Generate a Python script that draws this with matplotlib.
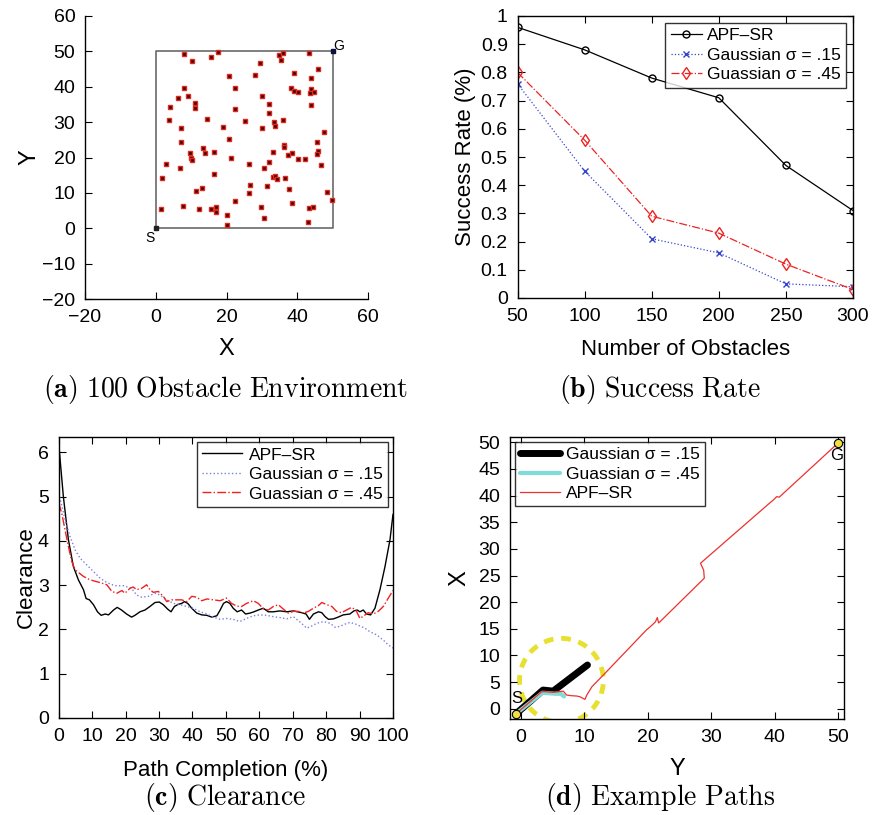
import matplotlib
matplotlib.use('Agg')
import matplotlib.pyplot as plt
from matplotlib.patches import Ellipse

plt.rcParams['font.family'] = ['Liberation Sans', 'DejaVu Sans']
plt.rcParams['mathtext.fontset'] = 'cm'

# (a) obstaculos del entorno
obs_x = [8.0, 17.7, 10.3, 15.7, 29.4, 34.9, 36.1, 35.5, 43.4, 45.9, 39.2, 43.9, 28.1, 20.8,
         8.1, 22.4, 9.2, 6.2, 29.9, 38.1, 39.0, 40.2, 43.9, 44.7, 43.7, 11.2, 11.2, 4.0,
         31.9, 44.0, 22.5, 32.1, 3.7, 14.4, 25.3, 33.5, 33.6, 36.1, 7.1, 18.9, 30.1, 47.5,
         20.7, 7.2, 45.5, 36.3, 36.3, 13.4, 9.6, 14.0, 16.6, 33.1, 38.4, 37.5, 45.9, 45.5,
         9.9, 10.3, 21.3, 40.2, 42.1, 3.0, 26.4, 32.0, 46.8, 6.8, 30.6, 1.9, 16.6, 33.2,
         33.6, 34.3, 36.6, 26.7, 31.5, 13.1, 11.5, 37.8, 26.4, 48.3, 49.8, 22.3, 38.4, 7.7,
         17.1, 1.5, 12.2, 15.6, 17.0, 29.8, 43.4, 44.4, 20.0, 30.7, 42.9, 20.2]
obs_y = [49.3, 49.9, 47.3, 48.3, 46.7, 49.0, 49.5, 47.6, 49.5, 45.0, 43.9, 42.6, 43.3, 43.0,
         39.7, 39.7, 37.3, 36.7, 37.5, 39.6, 38.7, 38.4, 39.3, 38.5, 38.2, 35.3, 34.1, 34.3,
         35.1, 34.7, 33.6, 32.5, 30.6, 30.8, 30.2, 30.0, 29.0, 30.6, 28.4, 28.5, 28.2, 27.1,
         25.2, 24.4, 24.4, 23.6, 23.1, 22.7, 21.3, 21.3, 21.6, 21.6, 21.4, 20.7, 21.8, 21.0,
         19.9, 19.3, 19.8, 19.6, 19.6, 18.1, 18.1, 18.7, 18.0, 16.9, 16.9, 14.2, 15.2, 14.4,
         14.9, 13.9, 14.3, 12.3, 11.9, 11.4, 10.6, 11.2, 10.1, 10.2, 8.1, 7.6, 7.1, 6.3,
         6.1, 5.4, 5.5, 5.4, 4.5, 5.9, 5.6, 6.0, 3.7, 2.8, 1.9, 0.9]
area_x = [0, 50, 50, 0, 0]
area_y = [0, 0, 50, 50, 0]

# (b) tasa de exito
n_obs = [50, 100, 150, 200, 250, 300]
sr_apf = [0.96, 0.88, 0.78, 0.71, 0.47, 0.31]
sr_g15 = [0.76, 0.45, 0.21, 0.16, 0.05, 0.04]
sr_g45 = [0.80, 0.56, 0.29, 0.23, 0.12, 0.03]

# (c) clearance
c_apf_x = [0, 1.4, 2.9, 4.4, 5.9, 7.4, 8.2, 9.2, 10.4, 11.6, 12.7, 13.9, 14.9, 16.4, 17.5, 18.8,
           20.3, 21.8, 22.8, 24.3, 25.8, 27.3, 28.8, 30.1, 31.3, 32.6, 33.6, 34.6, 35.8, 36.8,
           37.6, 38.6, 39.8, 41.3, 42.8, 44.3, 45.8, 47.3, 48.3, 49.3, 50.2, 51.2, 52.2, 53.4,
           54.7, 55.9, 57.2, 58.4, 59.7, 61.2, 62.7, 64.2, 66.2, 68.2, 70.2, 72.7, 74.0, 75.0,
           76.2, 77.7, 78.7, 79.7, 80.7, 82.2, 83.6, 85.1, 87.1, 88.3, 89.3, 90.1, 91.1, 92.1,
           93.3, 94.6, 96.1, 97.6, 99.1, 100]
c_apf_y = [6.2, 5.0, 4.03, 3.42, 3.12, 2.9, 2.7, 2.67, 2.56, 2.4, 2.32, 2.35, 2.33, 2.44, 2.5, 2.44,
           2.35, 2.28, 2.32, 2.4, 2.44, 2.52, 2.61, 2.62, 2.56, 2.46, 2.4, 2.52, 2.57, 2.59,
           2.63, 2.59, 2.48, 2.37, 2.33, 2.32, 2.28, 2.31, 2.44, 2.59, 2.63, 2.59, 2.48, 2.4,
           2.44, 2.35, 2.37, 2.4, 2.44, 2.48, 2.4, 2.4, 2.42, 2.4, 2.42, 2.38, 2.35, 2.23,
           2.35, 2.4, 2.38, 2.29, 2.23, 2.24, 2.28, 2.33, 2.35, 2.42, 2.44, 2.4, 2.44, 2.35,
           2.33, 2.48, 2.9, 3.42, 4.03, 4.6]
c_g15_x = [0, 1.0, 1.9, 3.4, 4.9, 6.4, 8.4, 10.4, 12.4, 14.4, 16.8, 19.3, 21.8, 23.3, 24.8, 26.8,
           28.8, 30.3, 32.3, 34.3, 36.3, 38.3, 40.3, 42.3, 44.3, 46.3, 48.3, 50.2, 52.2, 54.2,
           56.2, 58.2, 60.2, 62.2, 64.2, 66.2, 68.2, 70.2, 71.7, 73.2, 74.2, 75.7, 77.2, 79.2,
           81.2, 82.7, 84.1, 85.6, 87.1, 88.6, 90.1, 91.6, 93.1, 95.1, 97.1, 98.6, 100]
c_g15_y = [5.08, 4.78, 4.48, 4.1, 3.8, 3.61, 3.46, 3.31, 3.16, 3.06, 2.99, 2.99, 2.93, 2.78, 2.73, 2.75,
           2.82, 2.78, 2.67, 2.59, 2.56, 2.52, 2.48, 2.4, 2.35, 2.28, 2.23, 2.25, 2.23, 2.18,
           2.25, 2.31, 2.33, 2.32, 2.29, 2.27, 2.24, 2.29, 2.2, 2.1, 2.03, 2.08, 2.14, 2.18,
           2.14, 2.05, 2.07, 2.12, 2.16, 2.13, 2.08, 2.03, 1.95, 1.88, 1.76, 1.65, 1.58]
c_g45_x = [0, 0.9, 1.9, 2.9, 3.9, 4.9, 5.9, 7.4, 8.9, 10.4, 12.4, 14.4, 15.9, 17.4, 18.9, 19.8,
           21.3, 22.3, 23.3, 24.8, 26.3, 27.3, 28.3, 29.8, 31.3, 32.3, 33.8, 35.3, 36.8, 38.3,
           39.8, 41.3, 42.8, 44.3, 46.3, 48.3, 50.2, 51.7, 53.2, 54.7, 56.2, 58.2, 59.7, 61.2,
           62.7, 64.2, 65.7, 67.2, 68.7, 70.2, 71.7, 73.2, 74.7, 76.2, 77.7, 78.7, 80.2, 81.7,
           83.1, 84.6, 86.1, 87.6, 88.9, 90.1, 91.3, 92.6, 94.1, 95.6, 97.1, 98.6, 100]
c_g45_y = [4.86, 4.63, 4.25, 3.88, 3.54, 3.35, 3.29, 3.2, 3.14, 3.1, 3.06, 3.01, 2.86, 2.82, 2.88, 2.82,
           2.93, 2.96, 2.9, 2.93, 3.01, 2.9, 2.84, 2.86, 2.75, 2.63, 2.67, 2.67, 2.67, 2.63,
           2.75, 2.73, 2.65, 2.69, 2.67, 2.65, 2.71, 2.59, 2.53, 2.52, 2.59, 2.65, 2.59, 2.47,
           2.44, 2.52, 2.56, 2.46, 2.37, 2.41, 2.41, 2.37, 2.41, 2.48, 2.54, 2.61, 2.56, 2.52,
           2.41, 2.38, 2.44, 2.5, 2.44, 2.25, 2.31, 2.38, 2.35, 2.41, 2.52, 2.71, 2.88]

# (d) trayectorias de ejemplo
p_apf_x = [-0.8, 3.3, 3.8, 5.1, 6.7, 7.2, 8.0, 8.8, 9.3, 9.8, 10.1, 10.4, 11.2, 13.0, 19.8, 20.1,
           20.4, 21.2, 21.5, 21.7, 21.9, 28.9, 28.8, 28.3, 39.0, 39.8, 40.3, 40.7, 50.0]
p_apf_y = [-1.0, 3.2, 3.2, 3.07, 3.3, 2.57, 2.44, 2.38, 2.25, 1.94, 1.75, 2.57, 4.13, 6.32, 14.8, 15.1,
           15.4, 16.3, 17.1, 16.1, 16.3, 24.5, 26.0, 27.3, 38.4, 39.2, 39.8, 39.7, 49.9]
p_g15_x = [-0.8, 3.5, 5.1, 6.7, 10.5]
p_g15_y = [-1.0, 3.5, 3.3, 4.75, 8.2]
p_g45_x = [-0.8, 3.4, 5.5, 6.3, 6.8]
p_g45_y = [-1.0, 3.0, 2.8, 2.8, 2.3]
start_pt = (-0.8, -1.0)
goal_pt = (50.0, 49.9)

sig = '\u03c3'

fig = plt.figure(figsize=(8.77, 8.15), dpi=100)
W, H = 877, 815


def box(l, r, t, b):
    return [l / W, 1 - b / H, (r - l) / W, (b - t) / H]


def estilo(ax, full=True):
    ax.tick_params(direction='in', length=5, labelsize=14, top=full, right=full, width=0.8, pad=7)
    for s in ax.spines.values():
        s.set_linewidth(1.0)


# ---- (a)
ax1 = fig.add_axes(box(85, 368, 16, 299))
ax1.plot(area_x, area_y, color='#6a6a6a', lw=1.2)
ax1.plot(obs_x, obs_y, 's', ms=3.4, mfc='#3a0000', mec='#e02a20', mew=1.0, ls='none')
ax1.plot([0], [0], 's', ms=2.5, color='#202020')
ax1.plot([50], [50], 's', ms=3.5, color='#101040')
ax1.text(-1.6, -2.8, 'S', fontsize=10, ha='center', va='center')
ax1.text(51.8, 51.6, 'G', fontsize=10, ha='center', va='center')
ax1.set_xlim(-20, 60)
ax1.set_ylim(-20, 60)
ax1.set_xticks([-20, 0, 20, 40, 60])
ax1.set_yticks(range(-20, 61, 10))
ax1.spines['top'].set_visible(False)
ax1.spines['right'].set_visible(False)
estilo(ax1, full=False)
ax1.set_xlabel('X', fontsize=17, labelpad=9)
ax1.set_ylabel('Y', fontsize=17, labelpad=1)

# ---- (b)
ax2 = fig.add_axes(box(517.5, 853, 16, 298))
ax2.plot(n_obs, sr_apf, '-o', color='black', mfc='none', ms=5, lw=0.9, label='APF\u2013SR')
ax2.plot(n_obs, sr_g15, ':x', color='#3344cc', ms=4, lw=0.9, mew=1.0,
         label='Gaussian ' + sig + ' = .15')
ax2.plot(n_obs, sr_g45, '-.d', color='#ee2222', mfc='none', ms=6, lw=0.9,
         label='Guassian ' + sig + ' = .45')
ax2.set_xlim(50, 300)
ax2.set_ylim(0, 1)
ax2.set_xticks(n_obs)
ax2.set_yticks([i / 10 for i in range(11)])
ax2.set_yticklabels(['0', '0.1', '0.2', '0.3', '0.4', '0.5', '0.6', '0.7', '0.8', '0.9', '1'])
estilo(ax2)
ax2.set_xlabel('Number of Obstacles', fontsize=16, labelpad=10)
ax2.set_ylabel('Success Rate (%)', fontsize=16, labelpad=3)
lg = ax2.legend(loc='upper right', fontsize=12.5, fancybox=False, edgecolor='black',
                handlelength=1.8, borderpad=0.3, labelspacing=0.25, handletextpad=0.3,
                borderaxespad=0.4)
lg.get_frame().set_linewidth(1.0)

# ---- (c)
ax3 = fig.add_axes(box(58.7, 393, 437, 718))
ax3.plot(c_apf_x, c_apf_y, '-', color='black', lw=1.0, label='APF\u2013SR')
ax3.plot(c_g15_x, c_g15_y, ':', color='#7a80e0', lw=1.0, label='Gaussian ' + sig + ' = .15')
ax3.plot(c_g45_x, c_g45_y, '-.', color='#ee2222', lw=1.0, label='Guassian ' + sig + ' = .45')
ax3.set_xlim(0, 100)
ax3.set_ylim(0, 6.35)
ax3.set_xticks(range(0, 101, 10))
ax3.set_yticks(range(0, 7))
estilo(ax3)
ax3.set_xlabel('Path Completion (%)', fontsize=16, labelpad=11)
ax3.set_ylabel('Clearance', fontsize=16, labelpad=1)
lg = ax3.legend(loc='upper right', fontsize=12.5, fancybox=False, edgecolor='black',
                handlelength=2.3, borderpad=0.3, labelspacing=0.25, handletextpad=0.4,
                borderaxespad=0.3)
lg.get_frame().set_linewidth(1.0)

# ---- (d)
ax4 = fig.add_axes(box(510, 844, 436.7, 719))
ax4.add_patch(Ellipse((6.4, 5.3), 13.2, 15.8, fill=False, ec='#e8e030', lw=3.5, ls=(0, (2, 1.6))))
ax4.plot(p_g15_x, p_g15_y, '-', color='black', lw=5, solid_capstyle='round',
         label='Gaussian ' + sig + ' = .15')
ax4.plot(p_g45_x, p_g45_y, '-', color='#80dcd8', lw=3, solid_capstyle='round',
         label='Guassian ' + sig + ' = .45')
ax4.plot(p_apf_x, p_apf_y, '-', color='#ee3030', lw=0.9, label='APF\u2013SR')
ax4.plot(*start_pt, 'o', ms=6, mfc='#f0e040', mec='black', mew=0.8)
ax4.plot(*goal_pt, 'o', ms=6, mfc='#f0e040', mec='black', mew=0.8)
ax4.text(-0.6, 2.0, 'S', fontsize=12, ha='center', va='center')
ax4.text(49.7, 47.6, 'G', fontsize=12, ha='center', va='center')
ax4.set_xlim(-1.7, 50.9)
ax4.set_ylim(-1.93, 51.05)
ax4.set_xticks(range(0, 51, 10))
ax4.set_yticks(range(0, 51, 5))
estilo(ax4)
ax4.set_xlabel('Y', fontsize=17, labelpad=9)
ax4.set_ylabel('X', fontsize=17, labelpad=6)
lg = ax4.legend(loc='upper left', fontsize=12.5, fancybox=False, edgecolor='black',
                handlelength=2.3, borderpad=0.3, labelspacing=0.25, handletextpad=0.3,
                borderaxespad=0.3)
lg.get_frame().set_linewidth(1.0)

# ---- pies de figura
cap = dict(fontsize=20, ha='center', va='center')
fig.text(226 / W, 1 - 389 / H, r'$\mathbf{(a)}\ \mathrm{100\ Obstacle\ Environment}$', **cap)
fig.text(660 / W, 1 - 389 / H, r'$\mathbf{(b)}\ \mathrm{Success\ Rate}$', **cap)
fig.text(225 / W, 1 - 797 / H, r'$\mathbf{(c)}\ \mathrm{Clearance}$', **cap)
fig.text(660 / W, 1 - 797 / H, r'$\mathbf{(d)}\ \mathrm{Example\ Paths}$', **cap)

fig.savefig('out.png', dpi=100)
